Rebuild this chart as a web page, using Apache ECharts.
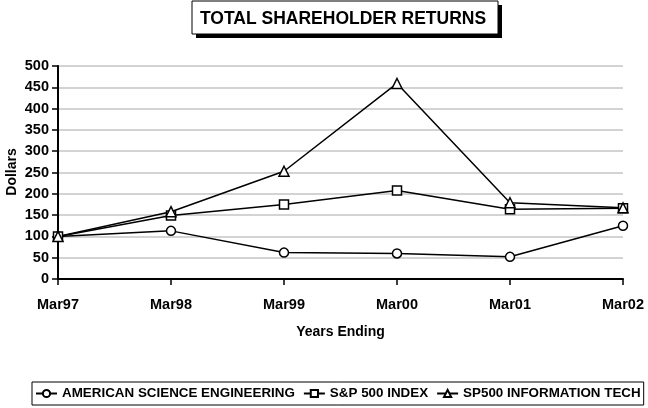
<!DOCTYPE html>
<html>
<head>
<meta charset="utf-8">
<script src="https://cdn.jsdelivr.net/npm/echarts@6/dist/echarts.min.js"></script>
<style>html,body{margin:0;padding:0;background:#fff}#c{width:648px;height:408px}</style>
</head>
<body>
<div id="c"></div>
<script>
var categories = ['Mar97', 'Mar98', 'Mar99', 'Mar00', 'Mar01', 'Mar02'];
var aseValues = [100, 113, 62, 60, 52, 125];
var sp500Values = [100, 149, 175, 208, 164, 166];
var techValues = [100, 158, 253, 459, 179, 167];
var seriesNames = ['AMERICAN SCIENCE ENGINEERING', 'S&P 500 INDEX', 'SP500 INFORMATION TECH'];
var yTicks = [0, 50, 100, 150, 200, 250, 300, 350, 400, 450, 500];

var FONT = '"Liberation Sans", Arial, sans-serif';
var chart = echarts.init(document.getElementById('c'), null, {renderer: 'canvas'});

function mk(name, data, symbol, size) {
  return {
    name: name, type: 'line', data: data,
    symbol: symbol, symbolSize: size,
    lineStyle: {color: '#000', width: 1.5},
    itemStyle: {color: '#fff', borderColor: '#000', borderWidth: 1.5},
    emphasis: {disabled: true},
    animation: false
  };
}

chart.setOption({
  backgroundColor: '#fff',
  animation: false,
  graphic: [
    {type: 'rect', shape: {x: 196, y: 5, width: 306, height: 33}, style: {fill: '#000'}},
    {type: 'rect', shape: {x: 192, y: 1, width: 306, height: 33}, style: {fill: '#fff', stroke: '#000', lineWidth: 1}},
    {type: 'text', x: 343, y: 19, style: {text: 'TOTAL SHAREHOLDER RETURNS', font: 'bold 17.5px ' + FONT, fill: '#000', align: 'center', verticalAlign: 'middle'}},
    {type: 'text', x: 12, y: 172, rotation: Math.PI / 2, style: {text: 'Dollars', font: 'bold 14px ' + FONT, fill: '#000', align: 'center', verticalAlign: 'middle'}}
  ],
  grid: {left: 58, right: 25, top: 66, bottom: 129, containLabel: false, outerBoundsMode: 'none'},
  legend: {
    data: seriesNames,
    left: 32, top: 382,
    padding: [5, 3, 5, 3],
    borderColor: '#000', borderWidth: 1,
    itemWidth: 21, itemHeight: 9, itemGap: 8,
    textStyle: {fontFamily: FONT, fontWeight: 'bold', fontSize: 13.4, color: '#000'}
  },
  xAxis: {
    type: 'category', data: categories, boundaryGap: false,
    name: 'Years Ending', nameLocation: 'middle', nameGap: 46,
    nameTextStyle: {fontFamily: FONT, fontWeight: 'bold', fontSize: 14, color: '#000'},
    axisLine: {lineStyle: {color: '#000', width: 2}},
    axisTick: {show: true, length: 6, lineStyle: {color: '#000', width: 1.5}},
    axisLabel: {fontFamily: FONT, fontWeight: 'bold', fontSize: 14.5, color: '#000', margin: 18},
    splitLine: {show: false}
  },
  yAxis: {
    type: 'value', min: 0, max: 500, interval: 50,
    axisLine: {show: true, lineStyle: {color: '#000', width: 2}},
    axisTick: {show: true, length: 6, lineStyle: {color: '#000', width: 1.5}},
    axisLabel: {fontFamily: FONT, fontWeight: 'bold', fontSize: 14.5, color: '#000', margin: 9,
      formatter: function (v) { return yTicks.indexOf(v) >= 0 ? String(v) : ''; }},
    splitLine: {show: true, lineStyle: {color: '#c4c4c4', width: 1.5}}
  },
  series: [
    mk(seriesNames[0], aseValues, 'circle', 9),
    mk(seriesNames[1], sp500Values, 'rect', 9),
    mk(seriesNames[2], techValues, 'triangle', 10)
  ]
});
</script>
</body>
</html>
